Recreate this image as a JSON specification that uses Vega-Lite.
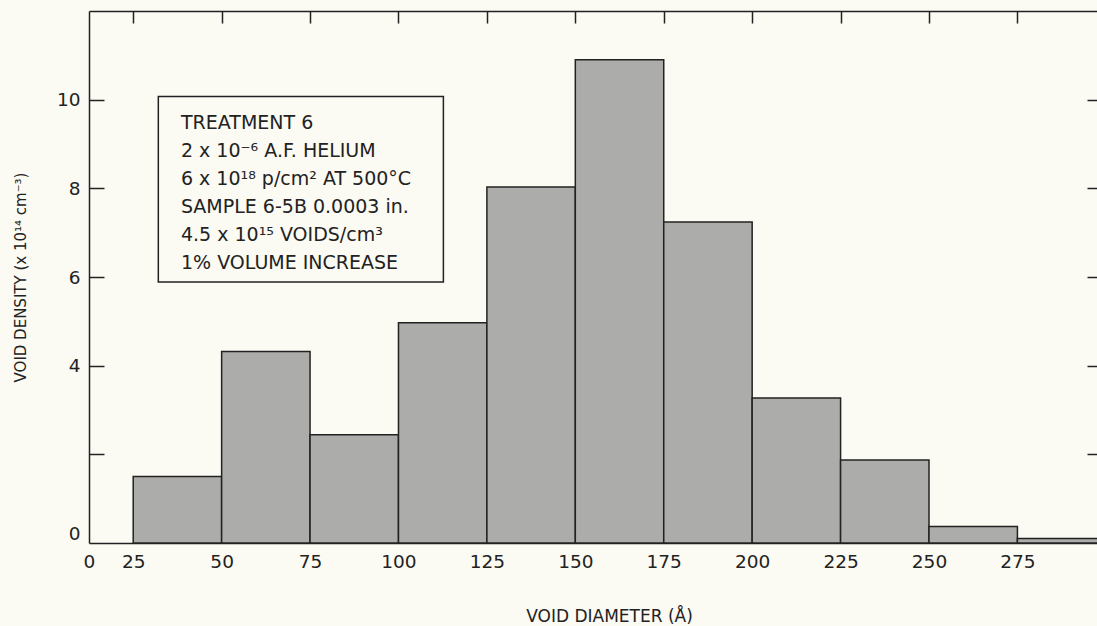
{
  "$schema": "https://vega.github.io/schema/vega-lite/v6.json",
  "width": 1008,
  "height": 532,
  "autosize": "none",
  "padding": {"left": 89, "top": 11, "right": 0, "bottom": 83},
  "background": "#fbfaf3",
  "config": {"view": {"stroke": null}, "font": "DejaVu Sans"},
  "datasets": {
    "bins": [
      {"start": 25, "end": 50, "density": 1.5},
      {"start": 50, "end": 75, "density": 4.32},
      {"start": 75, "end": 100, "density": 2.44},
      {"start": 100, "end": 125, "density": 4.97},
      {"start": 125, "end": 150, "density": 8.03},
      {"start": 150, "end": 175, "density": 10.9},
      {"start": 175, "end": 200, "density": 7.24},
      {"start": 200, "end": 225, "density": 3.27},
      {"start": 225, "end": 250, "density": 1.87},
      {"start": 250, "end": 275, "density": 0.37},
      {"start": 275, "end": 300, "density": 0.1}
    ],
    "box": [{"x1": 32.1, "x2": 112.7, "y1": 10.07, "y2": 5.89}],
    "notes": [
      {"x": 38.5, "y": 9.47, "text": "TREATMENT 6"},
      {"x": 38.5, "y": 8.84, "text": "2 x 10⁻⁶ A.F. HELIUM"},
      {"x": 38.5, "y": 8.21, "text": "6 x 10¹⁸ p/cm² AT 500°C"},
      {"x": 38.5, "y": 7.58, "text": "SAMPLE 6-5B 0.0003 in."},
      {"x": 38.5, "y": 6.95, "text": "4.5 x 10¹⁵ VOIDS/cm³"},
      {"x": 38.5, "y": 6.32, "text": "1% VOLUME INCREASE"}
    ]
  },
  "layer": [
    {
      "data": {"name": "bins"},
      "mark": {"type": "rect", "fill": "#acacaa", "stroke": "#222222", "strokeWidth": 1.5, "clip": true},
      "encoding": {
        "x": {
          "field": "start", "type": "quantitative",
          "scale": {"domain": [12.5, 297.5], "nice": false, "zero": false},
          "axis": {
            "orient": "bottom",
            "title": "VOID DIAMETER (Å)",
            "titleFont": "DejaVu Sans", "titleFontSize": 17, "titleFontWeight": "normal", "titleColor": "#222222",
            "titlePadding": 38, "titleX": 520,
            "values": [12.5, 25, 50, 75, 100, 125, 150, 175, 200, 225, 250, 275],
            "labelExpr": "datum.value < 20 ? '0' : datum.label",
            "labelFont": "DejaVu Sans", "labelFontSize": 18.5, "labelColor": "#222222",
            "ticks": false, "tickSize": 0, "labelPadding": 9,
            "domain": true, "domainColor": "#222222", "domainWidth": 1.5,
            "grid": false, "labelFlush": false, "labelOverlap": false
          }
        },
        "x2": {"field": "end"},
        "y": {
          "field": "density", "type": "quantitative",
          "scale": {"domain": [0, 12], "nice": false},
          "axis": {
            "orient": "left",
            "title": "VOID DENSITY (x 10¹⁴ cm⁻³)",
            "titleFont": "DejaVu Sans", "titleFontSize": 15, "titleFontWeight": "normal", "titleColor": "#222222",
            "titlePadding": 28,
            "values": [0, 2, 4, 6, 8, 10],
            "labelExpr": "datum.value == 2 ? '' : datum.label",
            "labelFont": "DejaVu Sans", "labelFontSize": 18.5, "labelColor": "#222222",
            "labelOffset": {"condition": {"test": "datum.value === 0", "value": -10}, "value": 0},
            "tickSize": -15, "tickWidth": 1.5, "tickColor": "#222222",
            "tickOpacity": {"condition": {"test": "datum.value === 0", "value": 0}, "value": 1},
            "labelPadding": 24,
            "domain": true, "domainColor": "#222222", "domainWidth": 1.5,
            "grid": false, "labelFlush": false
          }
        },
        "y2": {"datum": 0}
      }
    },
    {
      "data": {"name": "box"},
      "mark": {"type": "rect", "fill": null, "fillOpacity": 0, "stroke": "#222222", "strokeWidth": 1.5},
      "encoding": {
        "x": {
          "field": "x1", "type": "quantitative",
          "axis": {
            "orient": "top", "title": null, "labels": false,
            "values": [25, 50, 75, 100, 125, 150, 175, 200, 225, 250, 275],
            "tickSize": -12, "tickWidth": 1.5, "tickColor": "#222222",
            "domain": true, "domainColor": "#222222", "domainWidth": 1.5, "grid": false
          }
        },
        "x2": {"field": "x2"},
        "y": {
          "field": "y1", "type": "quantitative",
          "axis": {
            "orient": "right", "title": null, "labels": false,
            "values": [2, 4, 6, 8, 10],
            "tickSize": -10, "tickWidth": 1.5, "tickColor": "#222222",
            "domain": false, "grid": false
          }
        },
        "y2": {"field": "y2"}
      }
    },
    {
      "data": {"name": "notes"},
      "mark": {"type": "text", "align": "left", "baseline": "middle", "font": "DejaVu Sans", "fontSize": 19, "color": "#222222"},
      "encoding": {
        "x": {"field": "x", "type": "quantitative", "axis": null},
        "y": {"field": "y", "type": "quantitative", "axis": null},
        "text": {"field": "text"}
      }
    }
  ]
}
